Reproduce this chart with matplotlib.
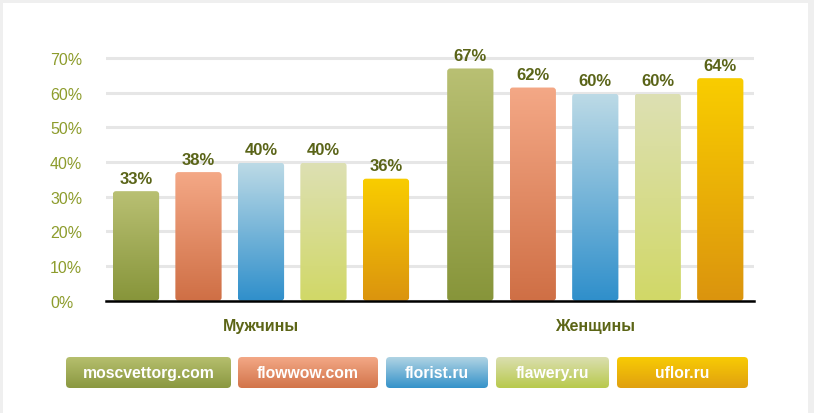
import matplotlib.pyplot as plt
import numpy as np
from matplotlib.colors import LinearSegmentedColormap
from matplotlib.patches import FancyBboxPatch, Rectangle
from matplotlib.transforms import blended_transform_factory

plt.rcParams['font.family'] = ['Liberation Sans', 'DejaVu Sans']

# data
groups = ['Мужчины', 'Женщины']
sites = ['moscvettorg.com', 'flowwow.com', 'florist.ru', 'flawery.ru', 'uflor.ru']
men = [31.6, 37.1, 39.8, 39.8, 35.2]
women = [67.0, 61.5, 59.7, 59.7, 64.2]
men_labels = ['33%', '38%', '40%', '40%', '36%']
women_labels = ['67%', '62%', '60%', '60%', '64%']
yticks = [0, 10, 20, 30, 40, 50, 60, 70]

# (top, bottom) gradient colours per site
bar_colors = [('#b9c073', '#87953a'), ('#f4a886', '#cf6f45'), ('#bcdae6', '#2f8fcb'),
              ('#dde0b3', '#d1d867'), ('#f9cd00', '#db940e')]
leg_colors = [('#b6bf6e', '#8a9840'), ('#f3a886', '#d2744a'), ('#b0d4e4', '#3592c9'),
              ('#dbdfb0', '#b8c94c'), ('#f8cb04', '#e0a010')]

W, H = 814, 414
fig = plt.figure(figsize=(W / 100, H / 100), dpi=100, facecolor='#efefef')
fig.patches.append(Rectangle((3 / W, 0), 805 / W, 410 / H, transform=fig.transFigure,
                             facecolor='white', edgecolor='none', zorder=-10))

ax = fig.add_axes([106 / W, (H - 301.7) / H, 648 / W, (301.7 - 40) / H])
ax.set_facecolor('none')

grad = np.linspace(0, 1, 256).reshape(-1, 1)


def gradient_cmap(top, bottom):
    return LinearSegmentedColormap.from_list('g', [bottom, top])


group_gap = 5.35
for g, (vals, labels) in enumerate([(men, men_labels), (women, women_labels)]):
    xpos = np.arange(len(vals)) + g * group_gap
    bars = ax.bar(xpos, vals, width=0.74, color='none', edgecolor='none')
    for i, (rect, lbl) in enumerate(zip(bars, labels)):
        x, w, h = rect.get_x(), rect.get_width(), rect.get_height()
        top, bottom = bar_colors[i]
        im = ax.imshow(grad, extent=[x, x + w, 0, h], aspect='auto', origin='lower',
                       cmap=gradient_cmap(top, bottom), zorder=2)
        clip = FancyBboxPatch((x, 0), w, h, boxstyle='round,pad=0,rounding_size=0.05',
                              mutation_aspect=18, transform=ax.transData,
                              facecolor='none', edgecolor='none')
        ax.add_patch(clip)
        im.set_clip_path(clip)
        ax.annotate(lbl, (x + w / 2, h), xytext=(0, 4), textcoords='offset points',
                    ha='center', va='bottom', fontsize=12, fontweight='bold',
                    color='#5a6418', annotation_clip=False)

ax.set_xlim(-0.48, 9.89)
ax.set_ylim(0, 75.5)
ax.set_yticks(yticks)
ax.set_yticklabels([f'{v}%' for v in yticks])
for t in ax.get_yticklabels():
    t.set_ha('left')
ax.tick_params(axis='y', length=0, pad=40.3, labelsize=11.5, labelcolor='#8d9c2c')
ax.set_xticks([])
ax.set_axisbelow(True)
ax.yaxis.grid(True, color='#e6e6e6', linewidth=2.2)
for s in ['top', 'left', 'right']:
    ax.spines[s].set_visible(False)
ax.spines['bottom'].set_color('black')
ax.spines['bottom'].set_linewidth(1.8)
ax.spines['bottom'].set_zorder(5)

tr = blended_transform_factory(ax.transData, fig.transFigure)
for g, name in enumerate(groups):
    ax.text(2 + g * group_gap, 1 - 327 / H, name, transform=tr, ha='center', va='center',
            fontsize=11.5, fontweight='bold', color='#5c6516')

# legend boxes
leg_x = [(66, 231), (238, 378), (386, 488), (496, 609), (617, 748)]
ly0, ly1 = 358, 389
for (x0, x1), site, (top, bottom) in zip(leg_x, sites, leg_colors):
    bw, bh = x1 - x0, ly1 - ly0
    lax = fig.add_axes([x0 / W, (H - ly1) / H, bw / W, bh / H])
    lax.axis('off')
    im = lax.imshow(grad, extent=[0, 1, 0, 1], aspect='auto', origin='lower',
                    cmap=gradient_cmap(top, bottom))
    lax.set_xlim(0, 1)
    lax.set_ylim(0, 1)
    clip = FancyBboxPatch((0, 0), 1, 1, boxstyle=f'round,pad=0,rounding_size={4 / bw}',
                          mutation_aspect=bw / bh, transform=lax.transAxes,
                          facecolor='none', edgecolor='none')
    lax.add_patch(clip)
    im.set_clip_path(clip)
    lax.text(0.5, 0.5, site, transform=lax.transAxes, ha='center', va='center',
             fontsize=11.3, fontweight='bold', color='white')

fig.savefig('out.png', dpi=100, facecolor=fig.get_facecolor())
